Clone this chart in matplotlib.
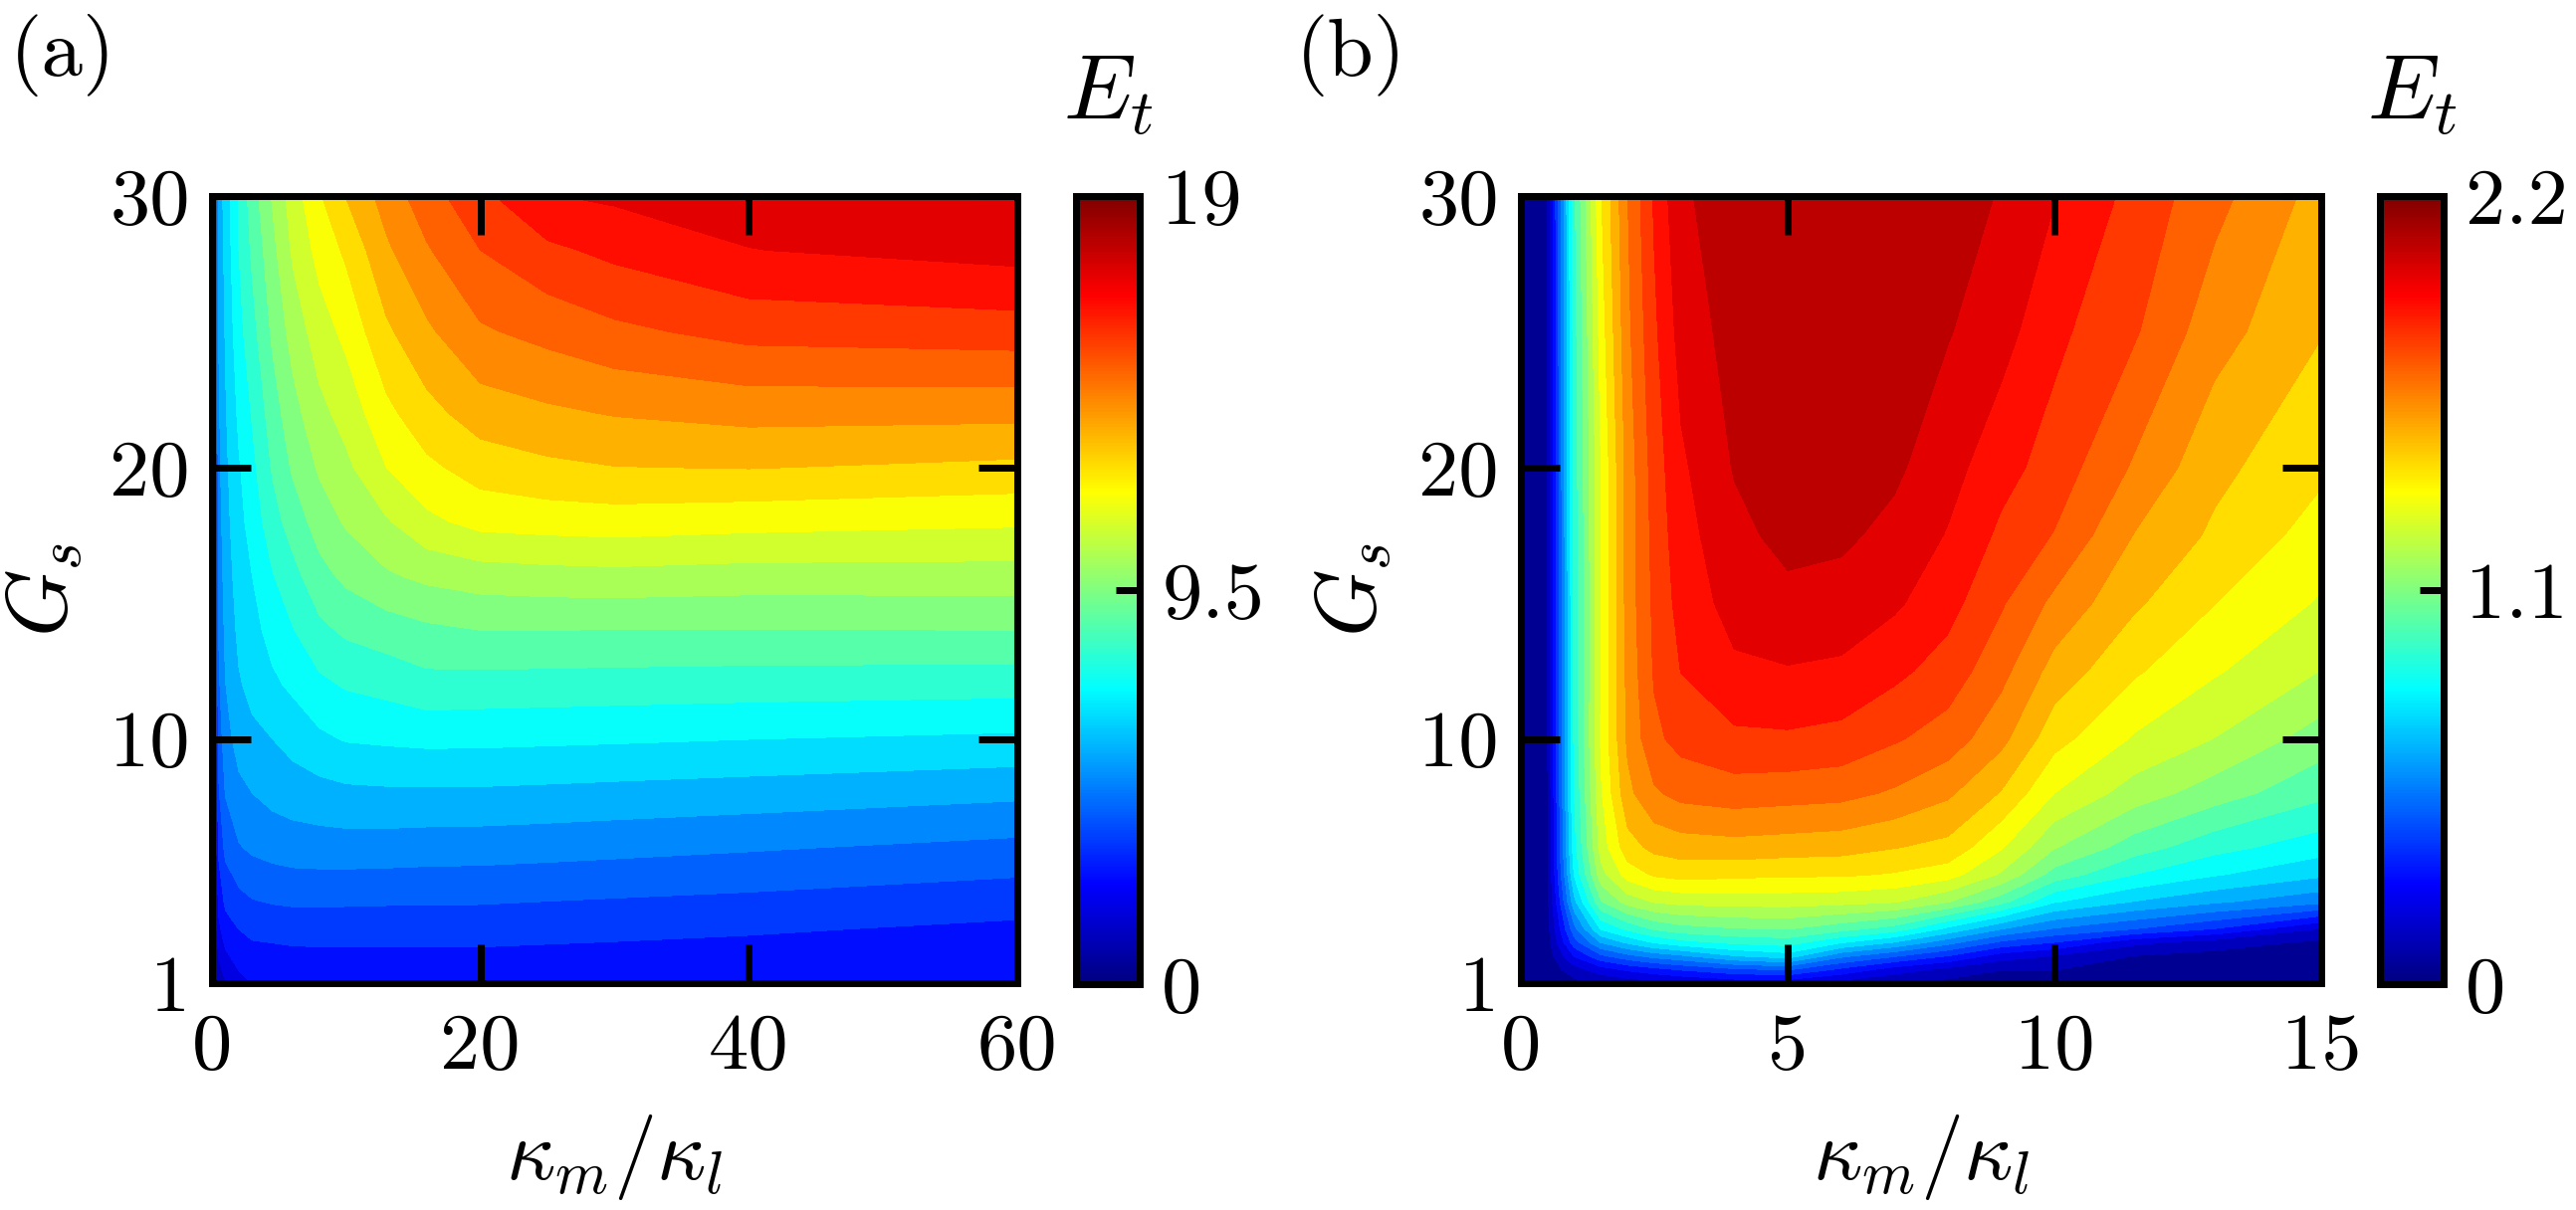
import numpy as np
import matplotlib.pyplot as plt
from matplotlib.colors import LinearSegmentedColormap, Normalize
from matplotlib.cm import ScalarMappable

plt.rcParams['font.family'] = 'serif'
plt.rcParams['font.serif'] = ['cmr10']
plt.rcParams['mathtext.fontset'] = 'cm'
plt.rcParams['axes.formatter.use_mathtext'] = True

# ---- panel (a): E_t on a grid (rows = G_s) ----
ka_x = [0, 0.5, 1, 2, 3, 4.5, 6, 8, 10, 13, 16, 20, 25, 30, 40, 60]
gs_a = [1, 2, 3, 4, 6, 8, 10, 12, 14, 16, 18, 20, 22, 25, 28, 30]
et_a = [
    [0, 1.0, 1.5, 2.05, 2.3, 2.4, 2.45, 2.5, 2.5, 2.5, 2.5, 2.5, 2.48, 2.45, 2.4, 2.3],
    [0, 1.6, 2.15, 2.55, 2.75, 2.8, 2.85, 2.87, 2.88, 2.88, 2.88, 2.88, 2.84, 2.8, 2.72, 2.6],
    [0, 2.1, 2.7, 3.05, 3.25, 3.3, 3.36, 3.37, 3.38, 3.37, 3.37, 3.36, 3.3, 3.25, 3.14, 2.88],
    [0, 2.5, 3.2, 3.55, 3.75, 3.85, 3.9, 3.9, 3.89, 3.87, 3.87, 3.85, 3.79, 3.73, 3.62, 3.35],
    [0, 3.2, 4.0, 4.5, 4.7, 4.85, 4.95, 4.99, 5.0, 4.98, 4.93, 4.91, 4.85, 4.78, 4.64, 4.35],
    [0, 3.7, 4.6, 5.1, 5.32, 5.55, 5.68, 5.8, 5.91, 5.95, 5.96, 5.95, 5.9, 5.84, 5.73, 5.48],
    [0, 4.1, 5.0, 5.65, 5.9, 6.08, 6.35, 6.69, 6.9, 6.97, 7.03, 7.02, 6.98, 6.94, 6.85, 6.70],
    [0, 4.4, 5.3, 6.0, 6.3, 6.7, 6.98, 7.43, 7.68, 7.85, 8.11, 8.06, 8.04, 8.01, 7.96, 7.89],
    [0, 4.6, 5.5, 6.25, 6.6, 7.1, 7.55, 8.17, 8.5, 8.74, 8.96, 9.12, 9.12, 9.1, 9.09, 9.12],
    [0, 4.8, 5.65, 6.45, 6.84, 7.55, 8.1, 8.86, 9.3, 9.77, 10.06, 10.26, 10.35, 10.4, 10.3, 10.3],
    [0, 4.95, 5.8, 6.6, 7.15, 8.05, 8.7, 9.46, 9.98, 10.56, 11.22, 11.65, 11.74, 11.8, 11.68, 11.52],
    [0, 5.1, 5.9, 6.76, 7.4, 8.44, 9.22, 9.99, 10.47, 11.4, 11.99, 12.5, 12.76, 12.9, 12.95, 12.74],
    [0, 5.2, 6.0, 7.0, 7.67, 8.75, 9.6, 10.42, 10.93, 11.96, 12.66, 13.3, 13.54, 13.73, 13.93, 13.89],
    [0, 5.35, 6.15, 7.35, 8.1, 9.25, 10.17, 11.04, 11.6, 12.78, 13.54, 14.34, 14.68, 15.03, 15.45, 15.59],
    [0, 5.5, 6.3, 7.6, 8.5, 9.65, 10.75, 11.66, 12.3, 13.55, 14.36, 15.2, 15.8, 16.15, 16.7, 17.0],
    [0, 5.6, 6.4, 7.7, 8.75, 9.95, 11.0, 12.08, 12.95, 14.0, 14.87, 15.76, 16.68, 16.85, 17.05, 17.35],
]

# ---- panel (b) ----
kb_x = [0, 0.5, 1, 1.5, 2, 2.5, 3, 4, 5, 6, 7, 8, 9, 10, 11.5, 13, 15]
gs_b = [1, 1.5, 2, 2.5, 3, 4, 5, 6, 8, 10, 12.5, 15, 17.5, 20, 25, 30]
et_b = [
    [0, 0.02, 0.06, 0.1, 0.12, 0.14, 0.16, 0.2, 0.2, 0.14, 0.09, 0.06, 0.05, 0.05, 0.04, 0.04, 0.04],
    [0, 0.03, 0.14, 0.22, 0.28, 0.32, 0.36, 0.42, 0.45, 0.33, 0.22, 0.15, 0.09, 0.09, 0.06, 0.05, 0.05],
    [0, 0.04, 0.27, 0.42, 0.5, 0.56, 0.6, 0.7, 0.75, 0.55, 0.45, 0.35, 0.22, 0.17, 0.085, 0.06, 0.06],
    [0, 0.05, 0.4, 0.62, 0.72, 0.8, 0.85, 0.9, 0.92, 0.8, 0.7, 0.56, 0.42, 0.35, 0.2, 0.13, 0.07],
    [0, 0.055, 0.5, 0.8, 0.9, 0.98, 1.02, 1.05, 1.06, 1.0, 0.93, 0.77, 0.62, 0.52, 0.44, 0.35, 0.17],
    [0, 0.065, 0.68, 1.05, 1.18, 1.24, 1.26, 1.27, 1.27, 1.26, 1.24, 1.15, 1.0, 0.8, 0.70, 0.63, 0.55],
    [0, 0.07, 0.8, 1.2, 1.36, 1.42, 1.44, 1.43, 1.42, 1.42, 1.40, 1.36, 1.22, 1.02, 0.88, 0.80, 0.72],
    [0, 0.075, 0.85, 1.27, 1.46, 1.52, 1.54, 1.55, 1.54, 1.53, 1.50, 1.47, 1.33, 1.15, 1.01, 0.91, 0.83],
    [0, 0.08, 0.88, 1.31, 1.56, 1.66, 1.70, 1.72, 1.71, 1.70, 1.66, 1.60, 1.49, 1.32, 1.19, 1.10, 0.99],
    [0, 0.085, 0.9, 1.33, 1.60, 1.74, 1.79, 1.83, 1.835, 1.82, 1.77, 1.72, 1.61, 1.44, 1.31, 1.23, 1.10],
    [0, 0.09, 0.9, 1.32, 1.61, 1.77, 1.85, 1.92, 1.93, 1.92, 1.87, 1.81, 1.70, 1.55, 1.42, 1.33, 1.23],
    [0, 0.09, 0.9, 1.32, 1.62, 1.78, 1.88, 1.97, 2.0, 1.99, 1.95, 1.88, 1.77, 1.65, 1.51, 1.41, 1.31],
    [0, 0.09, 0.91, 1.32, 1.62, 1.79, 1.90, 2.00, 2.05, 2.04, 2.0, 1.93, 1.83, 1.755, 1.58, 1.48, 1.37],
    [0, 0.09, 0.92, 1.32, 1.62, 1.80, 1.92, 2.03, 2.07, 2.07, 2.04, 1.97, 1.88, 1.81, 1.66, 1.52, 1.425],
    [0, 0.09, 0.93, 1.36, 1.65, 1.83, 1.97, 2.06, 2.09, 2.09, 2.07, 2.03, 1.97, 1.87, 1.77, 1.62, 1.50],
    [0, 0.09, 0.95, 1.40, 1.67, 1.86, 2.01, 2.07, 2.09, 2.09, 2.08, 2.05, 2.02, 1.94, 1.82, 1.70, 1.55],
]

W, H = 2588, 1216
jet = LinearSegmentedColormap.from_list(
    'mjet', [(0, (0, 0, 0.5)), (0.125, (0, 0, 1)), (0.375, (0, 1, 1)),
             (0.625, (1, 1, 0)), (0.875, (1, 0, 0)), (1, (0.5, 0, 0))])

fig = plt.figure(figsize=(W / 100, H / 100), dpi=100)


def rect(x0, x1, y0, y1):
    return [x0 / W, 1 - y1 / H, (x1 - x0) / W, (y1 - y0) / H]


def panel(px, cbx, x, g, e, vmax, xticks, cbticks, cblabels, tag, tagx):
    ax = fig.add_axes(rect(px[0], px[1], 197, 988))
    norm = Normalize(0, vmax)
    ax.contourf(x, g, np.array(e), levels=np.linspace(0, vmax, 26),
                cmap=jet, norm=norm)
    ax.set_xlim(x[0], x[-1])
    ax.set_ylim(1, 30)
    ax.set_xticks(xticks)
    ax.set_xticklabels([str(t) for t in xticks])
    ax.set_yticks([1, 10, 20, 30])
    ax.set_yticklabels(['1', '10', '20', '30'])
    ax.tick_params(direction='in', length=28, width=5, top=True, right=True,
                   labelsize=58)
    ax.tick_params(axis='x', pad=22)
    ax.tick_params(axis='y', pad=16)
    for s in ax.spines.values():
        s.set_linewidth(5)
    ax.set_xlabel(r'$\kappa_m/\kappa_l$', fontsize=62, labelpad=20)
    ax.set_ylabel(r'$G_s$', fontsize=62, labelpad=18)

    cax = fig.add_axes(rect(cbx[0], cbx[1], 197, 989))
    cb = fig.colorbar(ScalarMappable(norm=norm, cmap=jet), cax=cax)
    cb.set_ticks(cbticks)
    cb.set_ticklabels(cblabels)
    cb.outline.set_linewidth(5)
    cax.tick_params(direction='in', length=17, width=5, labelsize=58, pad=16)
    fig.text((cbx[0] + cbx[1]) / 2 / W, 1 - 119 / H, r'$E_t$', fontsize=66,
             ha='center', va='baseline')
    fig.text(tagx / W, 1 - 14 / H, tag, fontsize=60, ha='left', va='top')


panel((213, 1022), (1081, 1145), ka_x, gs_a, et_a, 19, [0, 20, 40, 60],
      [0, 9.5, 19], ['0', '9.5', '19'], '(a)', 10)
panel((1528, 2332), (2391, 2455), kb_x, gs_b, et_b, 2.2, [0, 5, 10, 15],
      [0, 1.1, 2.2], ['0', '1.1', '2.2'], '(b)', 1302)

fig.savefig('out.png', dpi=100)
